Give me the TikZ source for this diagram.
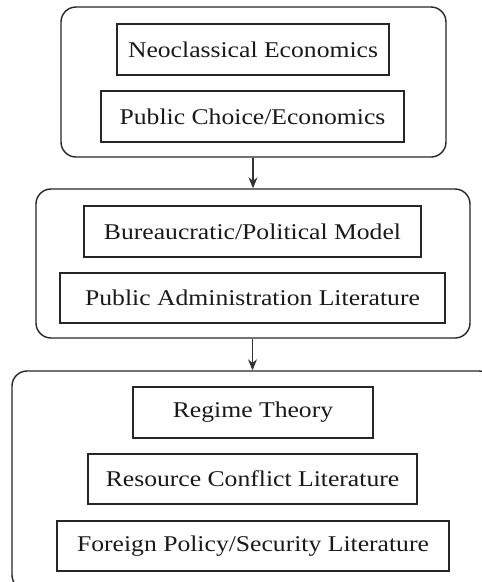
\documentclass[tikz,border=0pt]{standalone}
\usepackage{fontspec}
\setmainfont{Liberation Serif}[FakeStretch=1.14]
\usetikzlibrary{arrows.meta}
\begin{document}
\begin{tikzpicture}[x=1pt,y=-1pt,
  group/.style={draw=black!85, line width=1.4pt, rounded corners=15pt, inner sep=0pt},
  item/.style={draw=black!85, line width=1.3pt, inner sep=0pt, font=\fontsize{22.5}{26}\selectfont, text=black!90},
  flow/.style={draw=black!80, line width=1.3pt, -{Stealth[length=11pt,width=9pt]}}]
  \useasboundingbox (0,0) rectangle (482,582);
  \clip (0,0) rectangle (482,582);
  % outer groups
  \node[group, minimum width=385pt, minimum height=150pt] (g1) at (253.5,82) {};
  \node[group, minimum width=434pt, minimum height=149pt] (g2) at (253,263.5) {};
  \node[group, minimum width=482pt, minimum height=219pt] (g3) at (253,480.5) {};
  % items
  \node[item, minimum width=272pt, minimum height=51pt] (n1) at (253,49.5) {Neoclassical Economics};
  \node[item, minimum width=303pt, minimum height=51pt] (n2) at (252.5,116.5) {Public Choice/Economics};
  \node[item, minimum width=337pt, minimum height=51pt] (n3) at (252.5,231.5) {Bureaucratic/Political Model};
  \node[item, minimum width=385pt, minimum height=50pt] (n4) at (252.5,298) {Public Administration Literature};
  \node[item, minimum width=240pt, minimum height=51pt] (n5) at (253,412.5) {Regime Theory};
  \node[item, minimum width=329pt, minimum height=50pt] (n6) at (252.5,479) {Resource Conflict Literature};
  \node[item, minimum width=392pt, minimum height=50pt] (n7) at (253,546) {Foreign Policy/Security Literature};
  % connectors
  \draw[flow] (g1.south -| n1.center) -- (g2.north -| n1.center);
  \draw[flow] (g2.south -| n3.center) -- (g3.north -| n3.center);
\end{tikzpicture}
\end{document}
